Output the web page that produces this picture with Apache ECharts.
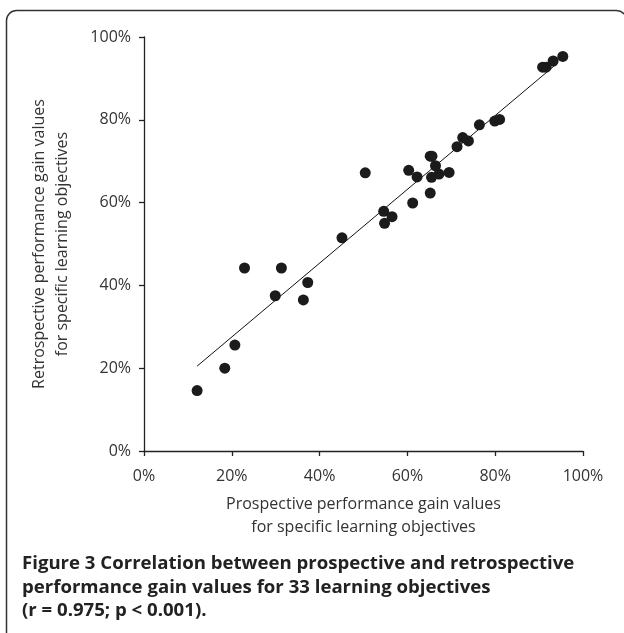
<!DOCTYPE html>
<html>
<head>
<meta charset="utf-8">
<script src="https://cdn.jsdelivr.net/npm/echarts@6/dist/echarts.min.js"></script>
<style>
  html, body { margin: 0; padding: 0; background: #fff; }
  #chart { width: 624px; height: 633px; }
</style>
</head>
<body>
<div id="chart"></div>
<script>
// prospective (x) vs retrospective (y) performance gain, percent
const prospective = [12.1, 18.4, 20.7, 22.9, 29.9, 31.3, 36.3, 37.3, 45.1, 50.4, 54.6,
  54.8, 56.5, 60.3, 61.2, 62.2, 65.2, 65.6, 65.2, 65.5, 66.4, 67.2, 69.5, 71.3, 72.6,
  73.9, 76.4, 79.9, 81.0, 90.8, 91.6, 93.2, 95.4]
const retrospective = [14.6, 20.0, 25.6, 44.2, 37.5, 44.2, 36.5, 40.7, 51.5, 67.2, 57.9,
  55.0, 56.6, 67.8, 59.9, 66.2, 71.2, 71.2, 62.3, 66.1, 68.9, 66.9, 67.3, 73.5, 75.7,
  74.9, 78.8, 79.7, 80.1, 92.7, 92.7, 94.2, 95.3]
// regression line end points as drawn
const trendX = [12.1, 94.1]
const trendY = [20.5, 93.6]

const captionLines = [
  'Figure 3 Correlation between prospective and retrospective',
  'performance gain values for 33 learning objectives',
  '(r = 0.975; p < 0.001).'
]

const font = '"Open Sans", "Noto Sans", sans-serif'
const chart = echarts.init(document.getElementById('chart'))

const axisCommon = {
  type: 'value',
  min: 0,
  max: 100,
  interval: 20,
  nameLocation: 'middle',
  nameTextStyle: { fontFamily: font, fontSize: 16, color: '#333', lineHeight: 23 },
  axisLine: { show: true, lineStyle: { color: '#222', width: 1.3 } },
  axisTick: { show: true, inside: false, length: 5, lineStyle: { color: '#222', width: 1.3 } },
  axisLabel: { fontFamily: font, fontSize: 16, color: '#333', formatter: '{value}%' },
  splitLine: { show: false }
}

const option = {
  animation: false,
  backgroundColor: '#fff',
  grid: { left: 144, right: 41, top: 37, bottom: 182 },
  xAxis: Object.assign({}, axisCommon, {
    name: 'Prospective performance gain values\nfor specific learning objectives',
    nameGap: 42,
    axisLabel: Object.assign({}, axisCommon.axisLabel, { margin: 17 })
  }),
  yAxis: Object.assign({}, axisCommon, {
    name: 'Retrospective performance gain values\nfor specific learning objectives',
    nameGap: 70,
    axisLabel: Object.assign({}, axisCommon.axisLabel, { margin: 13 })
  }),
  series: [
    {
      type: 'line',
      data: trendX.map((x, i) => [x, trendY[i]]),
      symbol: 'none',
      lineStyle: { color: '#111', width: 1 },
      z: 1
    },
    {
      type: 'scatter',
      data: prospective.map((x, i) => [x, retrospective[i]]),
      symbol: 'circle',
      symbolSize: 11,
      itemStyle: { color: '#1b1b1b', opacity: 1 },
      z: 2
    }
  ],
  graphic: [
    {
      type: 'rect',
      silent: true,
      shape: { x: 6.5, y: 10.5, width: 620, height: 700, r: [10, 10, 0, 0] },
      style: { fill: 'none', stroke: '#333', lineWidth: 1.5 }
    },
    {
      type: 'text',
      left: 22,
      top: 552,
      style: {
        text: captionLines.join('\n'),
        fontFamily: font,
        fontSize: 18.6,
        fontWeight: 'bold',
        lineHeight: 23.5,
        fill: '#222'
      }
    }
  ]
}

chart.setOption(option)
</script>
</body>
</html>
